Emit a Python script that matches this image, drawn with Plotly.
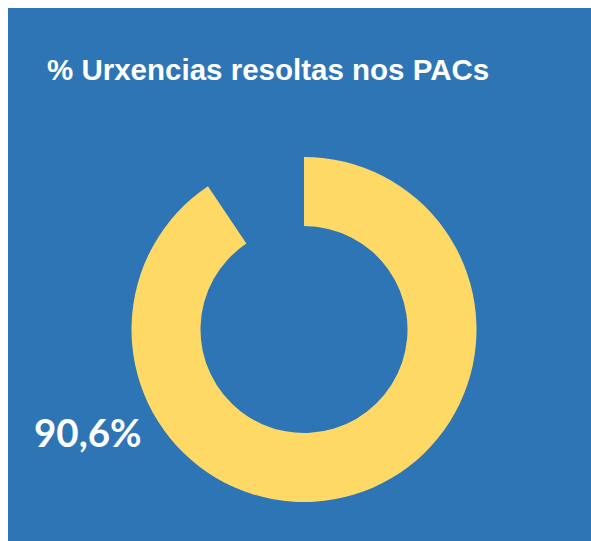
import plotly.graph_objects as go

W, H = 591, 541
categories = ["Resoltas", "Resto"]
values = [90.6, 9.4]
label_text = "90,6%"
title_text = "% Urxencias resoltas nos PACs"

BLUE = "#2E75B6"
YELLOW = "#FFD966"

fig = go.Figure()
fig.add_trace(go.Pie(
    labels=categories,
    values=values,
    hole=0.6,
    sort=False,
    direction="clockwise",
    rotation=0,
    marker=dict(colors=[YELLOW, "rgba(0,0,0,0)"], line=dict(width=0)),
    textinfo="none",
    hoverinfo="skip",
    showlegend=False,
    domain=dict(x=[131.5 / W, 476.5 / W], y=[39 / H, 384 / H]),
))

fig.update_layout(
    width=W, height=H,
    margin=dict(l=0, r=0, t=0, b=0),
    paper_bgcolor="white",
    plot_bgcolor="white",
    shapes=[dict(type="rect", xref="paper", yref="paper",
                 x0=8 / W, x1=1.0, y0=0.0, y1=1 - 8 / H,
                 fillcolor=BLUE, line=dict(width=0), layer="below")],
    annotations=[
        dict(text=f"<b>{title_text}</b>", x=268 / W, y=1 - 70 / H,
             xref="paper", yref="paper", xanchor="center", yanchor="middle",
             showarrow=False, font=dict(family="Liberation Sans, Arial", size=29.5, color="white")),
        dict(text=f"<b>{label_text}</b>", x=87.5 / W, y=1 - 432 / H,
             xref="paper", yref="paper", xanchor="center", yanchor="middle",
             showarrow=False, font=dict(family="Lato, Open Sans", size=38.5, color="white")),
    ],
)

fig.write_html(
    "out.html",
    config={"displayModeBar": False, "staticPlot": True},
    post_script=(
        "document.documentElement.style.margin='0';"
        "document.documentElement.style.overflow='hidden';"
        "document.body.style.margin='0';"
        "document.body.style.overflow='hidden';"
        "document.body.style.height='541px';"
        "document.body.style.background='#2E75B6';"
    ),
)
